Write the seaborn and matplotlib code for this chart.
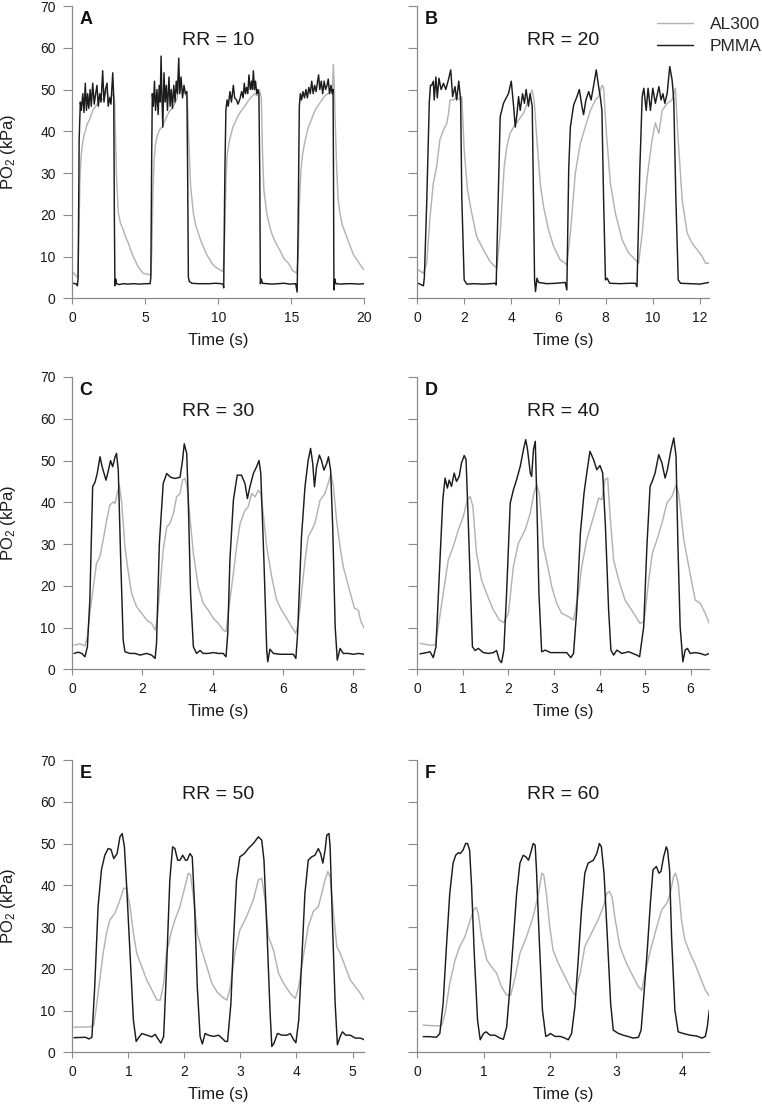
import matplotlib
matplotlib.use("Agg")
import matplotlib.pyplot as plt
import seaborn as sns
import pandas as pd

# ---------------- data (time s, PO2 kPa) ----------------
A_PMMA = [(0.05,3.6),(0.30,3.4),(0.35,3.0),(0.40,5),(0.47,38),(0.55,47),(0.62,45),(0.72,49),(0.80,44.5),(0.89,51.5),(0.97,45),(1.05,49),(1.13,45.5),(1.22,50),(1.30,46),(1.40,51.5),(1.50,46.5),(1.60,49),(1.69,51),(1.78,46),(1.88,49),(1.97,47),(2.08,54.5),(2.17,47),(2.27,50),(2.38,51.5),(2.46,46),(2.56,48),(2.65,46.5),(2.77,54),(2.84,48),(2.88,20),(2.92,3),(2.97,4.6),(3.03,3.5),(3.2,3.3),(3.5,3.5),(3.8,3.4),(4.2,3.5),(4.6,3.4),(5.0,3.5),(5.33,3.5),(5.38,5),(5.44,35),(5.48,49),(5.55,46),(5.63,52),(5.70,45),(5.80,50),(5.88,44),(5.95,51),(6.02,47),(6.08,58),(6.14,48),(6.20,41),(6.28,54),(6.36,47),(6.44,51),(6.52,45),(6.62,53),(6.70,46),(6.78,50),(6.86,45.5),(6.95,51),(7.04,47),(7.12,52),(7.20,49),(7.29,57.5),(7.36,49),(7.45,53),(7.55,48),(7.65,51),(7.75,49),(7.85,49.5),(7.90,30),(7.95,5),(8.02,4),(8.2,3.6),(8.6,3.5),(9.0,3.5),(9.4,3.5),(9.8,3.6),(10.2,3.5),(10.33,3.4),(10.37,2.5),(10.45,30),(10.52,45),(10.60,47.5),(10.68,46),(10.80,49.5),(10.90,47),(11.03,51),(11.12,48),(11.25,47.5),(11.34,46.5),(11.41,47),(11.50,48),(11.60,49.5),(11.70,48),(11.78,51.5),(11.86,49),(11.94,50.5),(12.02,49),(12.10,53.5),(12.19,50),(12.28,52),(12.34,50),(12.40,54.5),(12.48,50),(12.55,52),(12.63,49),(12.70,50),(12.78,49),(12.84,30),(12.88,3.5),(12.95,4.6),(13.02,3.6),(13.3,3.5),(13.7,3.4),(14.1,3.5),(14.5,3.6),(14.9,3.4),(15.3,3.5),(15.40,1.5),(15.46,15),(15.55,46),(15.62,49),(15.70,47.5),(15.80,49.5),(15.90,48),(16.00,50),(16.10,48),(16.20,50.5),(16.30,49),(16.40,52),(16.50,49),(16.60,51),(16.70,49.5),(16.80,52),(16.87,53.5),(16.95,50),(17.05,52),(17.15,49),(17.25,52),(17.35,50),(17.45,51),(17.53,52.5),(17.62,49),(17.72,51),(17.80,49),(17.86,50),(17.89,30),(17.92,2),(17.98,4.6),(18.05,3.5),(18.4,3.4),(18.8,3.5),(19.2,3.5),(19.6,3.4),(20.0,3.5)]
A_AL300 = [(0.05,6.2),(0.15,5.8),(0.30,5.2),(0.38,5.0),(0.45,15),(0.52,28),(0.60,34),(0.70,37),(0.80,39),(0.90,40),(1.0,41.5),(1.2,43),(1.4,45),(1.6,46),(1.8,47),(2.0,47.5),(2.2,48),(2.3,50),(2.45,48.5),(2.6,48),(2.8,49),(2.90,47),(2.95,40),(3.02,30),(3.10,24),(3.15,20.5),(3.30,18),(3.49,16.4),(3.65,14.7),(3.84,13.2),(4.0,11.5),(4.18,10),(4.35,8.7),(4.5,7.6),(4.7,6.6),(4.86,6),(5.1,5.8),(5.38,5.6),(5.45,12),(5.52,25),(5.60,33),(5.70,37),(5.82,39),(6.0,40.5),(6.15,41),(6.4,43),(6.6,44.5),(6.83,45.5),(7.0,46.5),(7.2,48),(7.29,53),(7.40,50),(7.55,50),(7.74,49),(7.88,48),(7.98,38),(8.10,27),(8.29,20.4),(8.45,17.5),(8.63,15.6),(8.80,13.8),(8.97,12.4),(9.2,10.5),(9.43,9.2),(9.6,8.2),(9.77,7.6),(10.1,6.8),(10.34,6.4),(10.44,15),(10.52,28),(10.60,34),(10.72,37),(10.85,39),(11.0,41),(11.2,42.5),(11.4,44),(11.6,45),(11.8,46),(12.0,47),(12.2,48),(12.5,49),(12.65,48.5),(12.8,50),(12.95,48),(13.02,36),(13.12,26),(13.31,20.5),(13.5,17.5),(13.65,15.6),(13.9,13.5),(14.2,11.6),(14.5,9.5),(14.8,8.4),(15.1,6.6),(15.38,6),(15.47,10),(15.55,22),(15.65,30),(15.75,34),(15.9,37),(16.16,41),(16.3,42),(16.5,44),(16.7,45.5),(16.9,46.5),(17.1,47.5),(17.3,48.5),(17.5,49),(17.7,49.5),(17.82,50),(17.88,56),(17.95,50),(18.01,42),(18.10,32),(18.20,24),(18.33,20.4),(18.50,17.5),(18.70,15.6),(19.0,12.8),(19.25,10.5),(19.5,9.2),(19.8,7.6),(20.0,6.8)]

B_PMMA = [(0.04,3.6),(0.18,3.2),(0.26,3.0),(0.30,5),(0.40,23),(0.51,47),(0.56,51),(0.61,51),(0.68,52),(0.72,47.5),(0.79,53),(0.85,48),(0.92,52.7),(1.01,50),(1.11,51.5),(1.21,50),(1.32,52.3),(1.42,54.7),(1.50,48.3),(1.60,50.7),(1.67,47.5),(1.76,52),(1.84,47.5),(1.89,24),(1.99,4.4),(2.10,3.4),(2.4,3.5),(2.8,3.4),(3.1,3.5),(3.30,3.6),(3.35,3.2),(3.40,15.6),(3.52,43.5),(3.66,46.7),(3.73,47.5),(3.87,49),(3.99,52),(4.09,46),(4.16,41),(4.23,44),(4.30,48.3),(4.37,45),(4.47,49),(4.55,46.7),(4.62,50),(4.72,46),(4.79,49),(4.88,46),(4.92,30),(4.98,4.4),(5.02,1.6),(5.08,4.8),(5.15,3.8),(5.5,3.5),(5.9,3.6),(6.28,3.8),(6.35,2.0),(6.43,31),(6.50,41),(6.64,46.3),(6.78,48.3),(6.88,50),(6.99,46),(7.06,44),(7.16,47.5),(7.28,49.5),(7.38,47.5),(7.49,51),(7.60,54.7),(7.70,50.7),(7.77,48.3),(7.84,45),(7.91,24),(7.99,4.4),(8.06,4.8),(8.17,3.6),(8.6,3.5),(9.0,3.6),(9.26,3.6),(9.33,2.8),(9.45,31),(9.55,48.3),(9.62,50.3),(9.72,45),(9.80,50.3),(9.90,45),(10.0,50.3),(10.11,46.7),(10.26,50.7),(10.35,47.5),(10.43,49),(10.51,46.7),(10.61,49),(10.72,55.5),(10.82,52.3),(10.89,47.5),(10.98,24),(11.08,4.4),(11.18,3.6),(11.6,3.5),(12.0,3.4),(12.38,3.8)]
B_AL300 = [(0.04,6.8),(0.26,6.0),(0.40,8.4),(0.54,19.5),(0.68,27.5),(0.82,31.5),(0.96,38),(1.11,40.3),(1.25,41.9),(1.32,44),(1.39,47.5),(1.53,47.5),(1.67,48.3),(1.82,47.5),(1.89,48.3),(1.99,35.5),(2.13,26),(2.31,20.4),(2.52,14.8),(2.81,11.6),(3.09,8.8),(3.30,7.6),(3.38,7.2),(3.52,15.6),(3.69,31.5),(3.80,36.3),(3.94,39.5),(4.09,41),(4.30,42.7),(4.51,44.3),(4.72,47.5),(4.87,49.9),(4.96,47.5),(5.08,37.9),(5.22,27.5),(5.36,22),(5.57,16.4),(5.79,12.4),(6.07,9.2),(6.28,8.4),(6.35,8),(6.50,15.6),(6.71,30),(6.92,37),(7.13,41),(7.35,45),(7.56,47.5),(7.70,48.3),(7.84,51),(7.91,50.5),(8.03,39.5),(8.20,27.5),(8.41,20.4),(8.70,14),(8.98,10.8),(9.26,9.2),(9.40,8.4),(9.55,15.6),(9.76,29),(9.97,38),(10.11,42),(10.26,39.5),(10.40,45),(10.61,46.7),(10.82,47.5),(10.96,50.3),(11.06,39.5),(11.25,23.5),(11.46,15.6),(11.67,13.2),(11.89,11.6),(12.10,10),(12.24,8.4),(12.38,8.4)]

C_PMMA = [(0.05,3.8),(0.17,4.1),(0.27,3.8),(0.36,3.0),(0.43,5.4),(0.50,16.6),(0.58,43.7),(0.65,44.9),(0.71,46.9),(0.79,50.9),(0.85,48.5),(0.96,45.3),(1.03,47.7),(1.09,50),(1.15,48.5),(1.22,50.9),(1.26,51.7),(1.31,47.7),(1.38,26),(1.45,7),(1.50,4.2),(1.64,3.8),(1.79,3.8),(1.93,3.4),(2.12,3.8),(2.26,3.4),(2.36,2.6),(2.40,6.2),(2.48,30),(2.59,44.5),(2.69,46.9),(2.80,46),(2.92,45.7),(3.07,46),(3.14,50),(3.19,54),(3.26,51.7),(3.30,42),(3.37,18),(3.45,5.4),(3.54,3.8),(3.64,4.5),(3.73,3.8),(3.87,3.8),(4.02,4.0),(4.16,3.8),(4.30,3.8),(4.38,3.0),(4.43,8.6),(4.49,26),(4.59,40.5),(4.70,46.5),(4.82,46.5),(4.92,44.5),(4.99,40.9),(5.06,43.7),(5.16,46.9),(5.25,48.5),(5.32,50),(5.37,47),(5.46,26),(5.54,4.6),(5.57,1.8),(5.63,4.8),(5.73,3.8),(5.92,3.6),(6.11,3.6),(6.30,3.6),(6.37,2.6),(6.42,8.6),(6.53,31.7),(6.63,43.7),(6.72,50),(6.79,52.9),(6.85,49.3),(6.90,43.7),(6.96,48.5),(7.04,51.3),(7.10,50),(7.17,47.7),(7.25,49.3),(7.30,50.9),(7.36,47.7),(7.42,34),(7.49,10.2),(7.55,2.2),(7.63,5.0),(7.72,3.8),(7.86,3.8),(8.01,3.6),(8.15,3.8),(8.32,3.6)]
C_AL300 = [(0.05,5.8),(0.22,6.1),(0.36,5.6),(0.43,7.8),(0.50,13.4),(0.60,19.8),(0.69,25.4),(0.79,27),(0.88,31),(0.98,35.7),(1.07,39.3),(1.17,40.1),(1.22,39.7),(1.28,42.1),(1.34,44.1),(1.41,39.7),(1.50,29.3),(1.60,23),(1.69,18.2),(1.83,15),(1.98,13.4),(2.12,11.8),(2.26,11),(2.36,9.4),(2.42,11.8),(2.50,19.8),(2.59,28.5),(2.69,34.1),(2.78,34.9),(2.88,37.3),(2.97,41.3),(3.07,42.1),(3.14,45.3),(3.21,45.7),(3.27,43.8),(3.35,36.5),(3.45,27.8),(3.59,19.8),(3.73,15.8),(3.87,14.2),(4.02,12.2),(4.16,11),(4.30,9.4),(4.38,9.0),(4.49,16.6),(4.59,23),(4.68,29.3),(4.78,34.9),(4.92,38.1),(5.01,38.9),(5.11,42.1),(5.21,41.3),(5.30,42.9),(5.37,42.1),(5.44,37.3),(5.54,29.3),(5.68,22.2),(5.82,16.6),(5.96,14.2),(6.11,12.2),(6.25,10.2),(6.37,8.6),(6.44,11),(6.53,18.2),(6.63,26),(6.72,31.7),(6.82,33.3),(6.91,34.9),(7.06,40.5),(7.20,42.1),(7.29,44.5),(7.37,46.9),(7.44,43.8),(7.53,35.7),(7.63,29.3),(7.72,24.6),(7.82,21.4),(7.93,18),(8.04,14.6),(8.15,14.2),(8.22,11.5),(8.32,9.8)]

D_PMMA = [(0.06,3.7),(0.21,4.0),(0.28,4.2),(0.35,2.8),(0.41,5.4),(0.48,22),(0.56,40.6),(0.61,45.8),(0.66,43.4),(0.70,45.3),(0.75,43.8),(0.81,47),(0.86,45),(0.92,46.2),(0.97,49.4),(1.03,51.2),(1.07,50.2),(1.11,38.2),(1.16,22),(1.21,5.4),(1.27,4.5),(1.34,5.0),(1.45,4.0),(1.56,3.8),(1.67,4.0),(1.74,4.5),(1.80,2.2),(1.85,1.6),(1.90,4.6),(1.96,18.2),(2.04,39.8),(2.11,43),(2.18,45.4),(2.26,48.6),(2.33,52.6),(2.38,55),(2.42,52.6),(2.48,47),(2.51,46.2),(2.55,52.6),(2.59,54.6),(2.62,42.2),(2.67,18.2),(2.73,4.2),(2.81,4.6),(2.92,4.0),(3.06,4.0),(3.28,4.0),(3.37,2.8),(3.43,3.8),(3.50,14.2),(3.58,32.6),(3.66,42.2),(3.72,47),(3.79,52.2),(3.87,50.2),(3.94,47.8),(4.01,48.8),(4.07,47),(4.13,34.2),(4.20,14.2),(4.25,4.6),(4.31,3.4),(4.38,4.6),(4.49,3.8),(4.64,4.2),(4.82,3.4),(4.88,3.0),(4.97,10.2),(5.04,29.4),(5.11,43.8),(5.17,45.4),(5.22,47),(5.30,51.4),(5.37,49.4),(5.44,45.8),(5.49,47.8),(5.57,52.6),(5.63,55.4),(5.68,51),(5.72,30.2),(5.77,10.2),(5.83,1.8),(5.88,4.6),(5.93,5.0),(5.99,3.8),(6.10,4.0),(6.21,3.8),(6.32,3.4),(6.41,3.8)]
D_AL300 = [(0.06,6.2),(0.28,5.8),(0.39,5.8),(0.46,10.2),(0.57,18.2),(0.68,26.2),(0.79,29.4),(0.90,33.4),(1.01,36.6),(1.10,40.6),(1.16,41.4),(1.22,39),(1.30,27.8),(1.41,21.4),(1.52,18.2),(1.67,14.2),(1.80,11.8),(1.90,11.2),(2.00,13.5),(2.11,24.6),(2.22,30.2),(2.37,33.4),(2.48,37.4),(2.56,42.2),(2.62,44.2),(2.68,42),(2.77,29.4),(2.88,23.8),(2.95,19.8),(3.06,15.8),(3.17,13.4),(3.32,12.6),(3.43,11.8),(3.54,18.2),(3.61,24.6),(3.72,31),(3.87,36.6),(3.98,41),(4.05,40.6),(4.12,45.4),(4.18,45.8),(4.23,37),(4.31,26.2),(4.42,21.4),(4.56,16.6),(4.75,13.4),(4.89,11),(4.98,11.4),(5.08,21.4),(5.16,27.8),(5.26,31),(5.37,35),(5.48,39.8),(5.59,41.4),(5.68,44.2),(5.74,42),(5.85,31),(5.96,24.6),(6.10,16.6),(6.21,15.8),(6.32,13.4),(6.41,11)]

E_PMMA = [(0.03,3.5),(0.23,3.6),(0.30,3.2),(0.35,3.6),(0.40,15.7),(0.46,34.9),(0.52,43.7),(0.58,47.2),(0.64,48.8),(0.69,48.6),(0.74,46.4),(0.80,47.6),(0.85,51.6),(0.89,52.4),(0.93,49.2),(0.97,39.7),(1.03,23.7),(1.09,7.7),(1.14,2.6),(1.18,3.4),(1.24,4.5),(1.33,4.1),(1.42,3.7),(1.48,4.3),(1.52,3.4),(1.58,2.2),(1.63,3.8),(1.68,19.7),(1.74,41.3),(1.79,49.2),(1.83,48.8),(1.88,46),(1.92,46),(1.97,47.2),(2.02,46),(2.05,46),(2.10,47.6),(2.14,46.8),(2.18,35.7),(2.23,15.7),(2.28,3.8),(2.32,2.0),(2.37,4.5),(2.43,4.1),(2.52,3.8),(2.61,4.1),(2.67,3.4),(2.73,2.6),(2.77,2.6),(2.83,11.7),(2.88,27.7),(2.93,41.3),(2.99,46.8),(3.07,47.6),(3.14,48.8),(3.23,50),(3.32,51.6),(3.38,50.8),(3.42,46),(3.47,30.1),(3.53,9.3),(3.56,1.4),(3.60,2.2),(3.66,4.5),(3.74,4.1),(3.83,4.1),(3.89,4.5),(3.95,3.0),(3.99,2.3),(4.04,7.7),(4.10,23.7),(4.15,38),(4.21,46),(4.27,46.8),(4.33,47.2),(4.39,48.8),(4.43,47.6),(4.47,45.3),(4.51,48.4),(4.54,52),(4.58,52.4),(4.60,49.2),(4.64,31.7),(4.69,11.7),(4.73,1.8),(4.78,3.8),(4.82,4.9),(4.88,4.1),(4.96,4.1),(5.05,3.4),(5.14,3.4),(5.21,3.0)]
E_AL300 = [(0.03,6.0),(0.32,6.1),(0.38,6.5),(0.43,10.9),(0.49,17.3),(0.55,23.7),(0.61,28.5),(0.67,31.7),(0.76,33.3),(0.85,36.5),(0.92,39.3),(0.97,39.3),(1.03,34.9),(1.09,28.5),(1.15,23.7),(1.24,20.5),(1.33,17.3),(1.42,14.9),(1.51,12.5),(1.57,12.5),(1.63,16.5),(1.68,23.7),(1.76,28.5),(1.83,31.7),(1.92,34.9),(2.01,39.7),(2.07,42.9),(2.11,42.5),(2.16,37.3),(2.23,28.5),(2.31,24.5),(2.40,20.5),(2.49,16.5),(2.58,14.5),(2.67,13.3),(2.76,12.5),(2.82,15.7),(2.90,23.7),(2.99,29.3),(3.11,32.5),(3.23,36.5),(3.32,41.3),(3.38,41.7),(3.44,36.5),(3.50,27.7),(3.59,24.5),(3.68,18.9),(3.77,16.5),(3.89,14.1),(3.98,12.9),(4.04,15.7),(4.13,23.7),(4.21,30.1),(4.30,33.7),(4.39,34.9),(4.45,38),(4.51,41.3),(4.56,43.3),(4.60,42),(4.66,33.3),(4.72,25.3),(4.78,23.7),(4.87,20.5),(4.96,17.3),(5.05,15.7),(5.14,14.1),(5.21,12.5)]

F_PMMA = [(0.09,3.75),(0.19,3.75),(0.29,3.6),(0.34,4.5),(0.39,11.7),(0.44,25.3),(0.49,38),(0.54,45.3),(0.58,47.2),(0.62,47.8),(0.65,47.6),(0.69,48.4),(0.73,50),(0.76,50),(0.79,48.4),(0.82,39.7),(0.86,23.7),(0.91,7.7),(0.95,3.0),(1.00,4.5),(1.04,4.9),(1.10,4.1),(1.17,4.1),(1.25,3.4),(1.30,3.1),(1.35,6.1),(1.40,15.7),(1.45,26.9),(1.50,38),(1.55,45.3),(1.60,47.2),(1.64,46.8),(1.68,46),(1.71,47.6),(1.75,50),(1.78,49.6),(1.80,43.7),(1.84,27.7),(1.89,10.1),(1.94,3.8),(1.98,4.1),(2.01,4.5),(2.08,3.8),(2.16,3.8),(2.23,3.4),(2.28,3.0),(2.33,4.5),(2.38,10.9),(2.43,22.1),(2.48,34.1),(2.53,42.9),(2.58,45.3),(2.66,46),(2.71,47.6),(2.75,50),(2.78,49.2),(2.82,42.9),(2.87,27.7),(2.92,11.7),(2.96,5.3),(3.04,4.5),(3.11,4.1),(3.19,3.75),(3.26,3.4),(3.34,3.6),(3.38,5.3),(3.42,13.3),(3.47,23.7),(3.52,35.7),(3.56,43.7),(3.61,44.5),(3.65,42.9),(3.68,43.3),(3.72,46.8),(3.76,49.2),(3.78,48.4),(3.81,43.7),(3.84,27.7),(3.89,10.1),(3.94,4.9),(4.02,4.5),(4.12,4.1),(4.22,3.9),(4.30,3.4),(4.35,3.8),(4.38,6.1),(4.41,10.1)]
F_AL300 = [(0.09,6.5),(0.32,6.3),(0.37,6.5),(0.42,9.3),(0.49,16.5),(0.57,22.1),(0.64,25.3),(0.72,27.7),(0.80,31.7),(0.85,34.1),(0.89,34.7),(0.92,33.3),(0.97,27.7),(1.05,22.1),(1.12,20.5),(1.20,18.9),(1.27,15.7),(1.35,13.7),(1.41,13.7),(1.48,18.1),(1.55,23.7),(1.65,27.7),(1.75,32.5),(1.83,38),(1.88,42.9),(1.91,42.5),(1.95,38),(2.00,30.1),(2.05,24.5),(2.13,21.3),(2.23,18.1),(2.33,14.9),(2.38,13.7),(2.46,18.9),(2.53,25.3),(2.63,28.5),(2.73,31.7),(2.81,34.9),(2.86,38),(2.90,38.5),(2.94,37.3),(2.99,31.7),(3.06,25.3),(3.16,21.3),(3.26,18.1),(3.34,15.7),(3.39,14.9),(3.44,18.9),(3.51,23.7),(3.59,28.5),(3.69,34.1),(3.77,35.7),(3.82,38),(3.87,42.1),(3.90,42.9),(3.94,40.5),(3.99,31.7),(4.04,26.9),(4.12,23.7),(4.19,21.3),(4.27,18.1),(4.35,14.9),(4.41,13.5)]

PANEL_LETTERS = ["A", "B", "C", "D", "E", "F"]
RR_VALUES = [10, 20, 30, 40, 50, 60]
X_LIMITS = [20, 12.4, 8.32, 6.41, 5.21, 4.41]
X_TICKS = [[0, 5, 10, 15, 20], [0, 2, 4, 6, 8, 10, 12], [0, 2, 4, 6, 8],
           [0, 1, 2, 3, 4, 5, 6], [0, 1, 2, 3, 4, 5], [0, 1, 2, 3, 4]]
Y_TICKS = [0, 10, 20, 30, 40, 50, 60, 70]
SERIES = [(A_AL300, A_PMMA), (B_AL300, B_PMMA), (C_AL300, C_PMMA),
          (D_AL300, D_PMMA), (E_AL300, E_PMMA), (F_AL300, F_PMMA)]
SERIES_NAMES = ["AL300", "PMMA"]
SERIES_COLORS = ["#b3b3b3", "#1c1c1c"]

# ---------------- style ----------------
sns.set_theme(style="ticks")
plt.rcParams["font.family"] = ["Liberation Sans", "DejaVu Sans"]
plt.rcParams["mathtext.fontset"] = "custom"
plt.rcParams["mathtext.rm"] = "Liberation Sans"
plt.rcParams["mathtext.it"] = "Liberation Sans:italic"
plt.rcParams["mathtext.bf"] = "Liberation Sans:bold"

SPINE = "#8a8a8a"
fig = plt.figure(figsize=(7.62, 11.05), dpi=100)
W, H = 762.0, 1105.0
lefts = [72.3, 417.3]
bottoms = [298.3, 669.3, 1052.3]
aw, ah = 292.0, 292.3

for i in range(6):
    r, c = divmod(i, 2)
    ax = fig.add_axes([lefts[c] / W, 1 - bottoms[r] / H, aw / W, ah / H])
    for name, color, pts in zip(SERIES_NAMES, SERIES_COLORS, SERIES[i]):
        df = pd.DataFrame(pts, columns=["t", "v"])
        sns.lineplot(data=df, x="t", y="v", ax=ax, color=color, lw=1.05,
                     estimator=None, errorbar=None, label=name, legend=False)
    ax.set_xlim(0, X_LIMITS[i])
    ax.set_ylim(0, 70)
    ax.set_xticks(X_TICKS[i])
    ax.set_yticks(Y_TICKS)
    sns.despine(ax=ax)
    for s in ("left", "bottom"):
        ax.spines[s].set_color(SPINE)
        ax.spines[s].set_linewidth(0.9)
    ax.tick_params(axis="y", length=6.5, width=0.8, color=SPINE, pad=5.5,
                   labelsize=10, labelcolor="#1a1a1a")
    ax.tick_params(axis="x", length=4, width=0.8, color=SPINE, pad=5,
                   labelsize=10, labelcolor="#1a1a1a")
    ax.set_xlabel("Time (s)", fontsize=12, color="#1a1a1a")
    ax.xaxis.set_label_coords(0.5, -0.118)
    if c == 0:
        ax.set_ylabel("PO$_2$ (kPa)", fontsize=12, color="#1a1a1a")
        ax.yaxis.set_label_coords(-0.185, 0.5)
    else:
        ax.set_ylabel("")
        ax.set_yticklabels([])
    ax.text(0.025, 0.955, PANEL_LETTERS[i], transform=ax.transAxes,
            ha="left", va="center", fontsize=13, fontweight="bold", color="#111111")
    ax.text(0.5, 0.882, f"RR = {RR_VALUES[i]}", transform=ax.transAxes,
            ha="center", va="center", fontsize=14, color="#1a1a1a")
    if i == 1:
        ax.legend(loc="upper left", bbox_to_anchor=(0.82, 0.963), frameon=False,
                  borderpad=0, borderaxespad=0, handlelength=2.1, handletextpad=0.95,
                  labelspacing=0.42, fontsize=12.5)

fig.savefig("out.png", dpi=100)
